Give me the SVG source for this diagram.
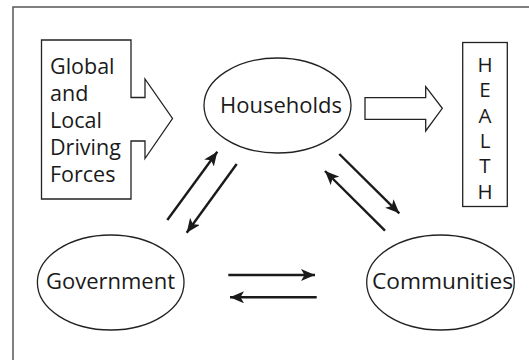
<svg xmlns="http://www.w3.org/2000/svg" width="529" height="360" viewBox="0 0 529 360">
<defs>
<marker id="ah" markerUnits="userSpaceOnUse" markerWidth="15" markerHeight="13" refX="14" refY="6" orient="auto" viewBox="0 0 15 13">
<path d="M0,0 L14,6 L0,12 L3.5,6 z" fill="#1a1a1a"/>
</marker>
<style>
.shape{fill:#fff;stroke:#222;stroke-width:1.3}
.lbl{font-family:"Open Sans","Liberation Sans",sans-serif;font-size:22px;fill:#1a1a1a}
.v{font-size:20.5px}
.s{font-size:21.5px}
.c{text-anchor:middle}
.arr{stroke:#1a1a1a;stroke-width:2.4;fill:none;marker-end:url(#ah)}
</style>
</defs>
<rect width="529" height="360" fill="#fff"/>
<rect x="13" y="7" width="540" height="380" fill="none" stroke="#555" stroke-width="1.5"/>
<g id="drivers">
<polygon class="shape" points="41.5,40 131,40 131,97.5 145,97.5 145,79 172.5,118.5 145,158.5 145,141 131,141 131,199 41.5,199"/>
<text class="lbl s" x="50" y="74">Global</text>
<text class="lbl s" x="50" y="101">and</text>
<text class="lbl s" x="50" y="128">Local</text>
<text class="lbl s" x="50" y="155">Driving</text>
<text class="lbl s" x="50" y="182">Forces</text>
</g>
<g id="households">
<ellipse class="shape" cx="277.5" cy="105.5" rx="73.5" ry="47.5"/>
<text class="lbl c" x="281" y="113">Households</text>
</g>
<g id="health-arrow">
<polygon class="shape" points="365,97.7 425.7,97.7 425.7,86.7 442.3,108.3 425.7,131 425.7,119.3 365,119.3"/>
</g>
<g id="health">
<rect class="shape" x="462.7" y="42.5" width="44.6" height="164"/>
<text class="lbl v c" x="485" y="72">H</text>
<text class="lbl v c" x="485" y="97.3">E</text>
<text class="lbl v c" x="485" y="122.6">A</text>
<text class="lbl v c" x="485" y="147.9">L</text>
<text class="lbl v c" x="485" y="173.2">T</text>
<text class="lbl v c" x="485" y="198.5">H</text>
</g>
<g id="government">
<ellipse class="shape" cx="110.7" cy="282.5" rx="73.3" ry="47.5"/>
<text class="lbl c" x="110.5" y="288.5">Government</text>
</g>
<g id="communities">
<ellipse class="shape" cx="440.5" cy="282.5" rx="73.8" ry="47.5"/>
<text class="lbl c" x="442.5" y="288.5" textLength="141" lengthAdjust="spacingAndGlyphs">Communities</text>
</g>
<g id="connectors">
<line class="arr" x1="167.3" y1="220" x2="217.3" y2="151.7"/>
<line class="arr" x1="236.7" y1="164" x2="186.7" y2="232.7"/>
<line class="arr" x1="339.3" y1="154" x2="399.3" y2="213.3"/>
<line class="arr" x1="385" y1="230.7" x2="325" y2="171"/>
<line class="arr" x1="228.3" y1="275" x2="315" y2="275"/>
<line class="arr" x1="316.7" y1="297.3" x2="230" y2="297.3"/>
</g>
</svg>
